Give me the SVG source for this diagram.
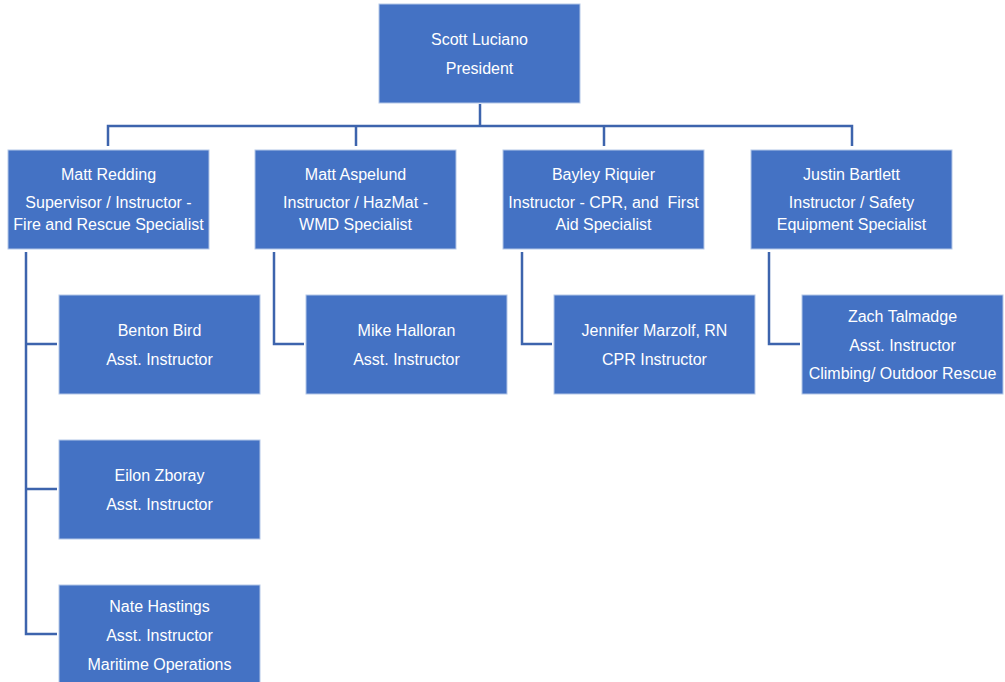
<svg xmlns="http://www.w3.org/2000/svg" width="1005" height="682" viewBox="0 0 1005 682">
<style>
.box{fill:#4472C4;stroke:#B4C7E7;stroke-width:1}
.t{font-family:"Liberation Sans",Arial,sans-serif;font-size:16px;fill:#FFFFFF;text-anchor:middle}
.ln{fill:none;stroke:#3D64AD;stroke-width:2.5}
</style>
<rect width="1005" height="682" fill="#FFFFFF"/>
<g id="connectors">
<path class="ln" d="M480,104 V126 M108,146 V126 H852 V146 M356,126 V146 M604,126 V146"/>
<path class="ln" d="M26,252 V634 H57 M26,344 H57 M26,489 H57"/>
<path class="ln" d="M274,252 V344 H304"/>
<path class="ln" d="M522,252 V344 H552"/>
<path class="ln" d="M769,252 V344 H800"/>
</g>
<g id="scott">
<rect class="box" x="379" y="4" width="201" height="99"/>
<text class="t" x="479.5" y="45">Scott Luciano</text>
<text class="t" x="479.5" y="74">President</text>
</g>
<g id="redding">
<rect class="box" x="8" y="150" width="201" height="99"/>
<text class="t" x="108.5" y="180">Matt Redding</text>
<text class="t" x="108.5" y="208">Supervisor / Instructor -</text>
<text class="t" x="108.5" y="230">Fire and Rescue Specialist</text>
</g>
<g id="aspelund">
<rect class="box" x="255" y="150" width="201" height="99"/>
<text class="t" x="355.5" y="180">Matt Aspelund</text>
<text class="t" x="355.5" y="208">Instructor / HazMat -</text>
<text class="t" x="355.5" y="230">WMD Specialist</text>
</g>
<g id="riquier">
<rect class="box" x="503" y="150" width="201" height="99"/>
<text class="t" x="603.5" y="180">Bayley Riquier</text>
<text class="t" x="603.5" y="208" xml:space="preserve" style="white-space:pre">Instructor - CPR, and  First</text>
<text class="t" x="603.5" y="230">Aid Specialist</text>
</g>
<g id="bartlett">
<rect class="box" x="751" y="150" width="201" height="99"/>
<text class="t" x="851.5" y="180">Justin Bartlett</text>
<text class="t" x="851.5" y="208">Instructor / Safety</text>
<text class="t" x="851.5" y="230">Equipment Specialist</text>
</g>
<g id="bird">
<rect class="box" x="59" y="295" width="201" height="99"/>
<text class="t" x="159.5" y="336">Benton Bird</text>
<text class="t" x="159.5" y="365">Asst. Instructor</text>
</g>
<g id="halloran">
<rect class="box" x="306" y="295" width="201" height="99"/>
<text class="t" x="406.5" y="336">Mike Halloran</text>
<text class="t" x="406.5" y="365">Asst. Instructor</text>
</g>
<g id="marzolf">
<rect class="box" x="554" y="295" width="201" height="99"/>
<text class="t" x="654.5" y="336">Jennifer Marzolf, RN</text>
<text class="t" x="654.5" y="365">CPR Instructor</text>
</g>
<g id="talmadge">
<rect class="box" x="802" y="295" width="201" height="99"/>
<text class="t" x="902.5" y="322">Zach Talmadge</text>
<text class="t" x="902.5" y="351">Asst. Instructor</text>
<text class="t" x="902.5" y="379">Climbing/ Outdoor Rescue</text>
</g>
<g id="zboray">
<rect class="box" x="59" y="440" width="201" height="99"/>
<text class="t" x="159.5" y="481">Eilon Zboray</text>
<text class="t" x="159.5" y="510">Asst. Instructor</text>
</g>
<g id="hastings">
<rect class="box" x="59" y="585" width="201" height="99"/>
<text class="t" x="159.5" y="612">Nate Hastings</text>
<text class="t" x="159.5" y="641">Asst. Instructor</text>
<text class="t" x="159.5" y="670">Maritime Operations</text>
</g>
</svg>
